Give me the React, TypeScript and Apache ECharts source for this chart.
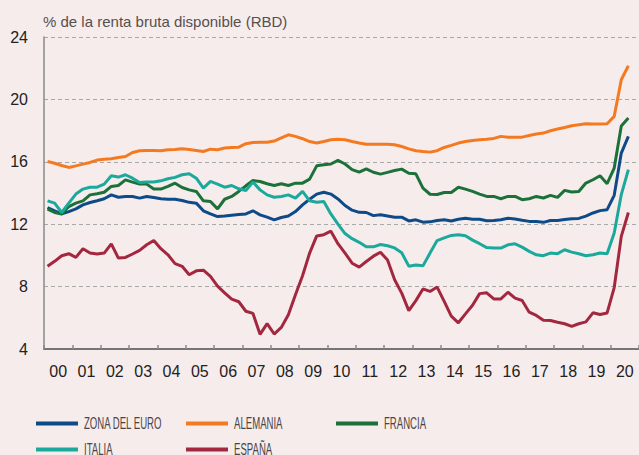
import React, { useEffect, useRef } from 'react';
import * as echarts from 'echarts';

// Year tick labels (2000–2020)
const yearLabels = ['00', '01', '02', '03', '04', '05', '06', '07', '08', '09', '10', '11', '12', '13', '14', '15', '16', '17', '18', '19', '20'];
const yTicks = [4, 8, 12, 16, 20, 24];

// Quarterly data 2000Q1 – 2020Q3 (% of gross disposable income)
const zonaEuro = [
  13.07, 12.86, 12.66, 12.81, 12.98, 13.24, 13.39, 13.5, 13.63, 13.88, 13.73, 13.78, 13.78, 13.67, 13.78, 13.71,
  13.63, 13.6, 13.6, 13.52, 13.4, 13.35, 12.86, 12.66, 12.49, 12.53, 12.58, 12.62, 12.66, 12.86, 12.6, 12.45,
  12.28, 12.43, 12.53, 12.81, 13.24, 13.6, 13.93, 14.05, 13.93, 13.62, 13.2, 12.9, 12.76, 12.75, 12.55, 12.6,
  12.53, 12.45, 12.45, 12.21, 12.28, 12.13, 12.15, 12.24, 12.28, 12.21, 12.32, 12.38, 12.32, 12.32, 12.22, 12.23,
  12.28, 12.38, 12.33, 12.25, 12.18, 12.18, 12.12, 12.24, 12.24, 12.3, 12.35, 12.37, 12.52, 12.72, 12.87, 12.93,
  13.85, 16.56, 17.63,
];
const alemania = [
  16.02, 15.91, 15.76, 15.64, 15.74, 15.85, 15.96, 16.11, 16.17, 16.19, 16.28, 16.34, 16.6, 16.71, 16.73, 16.73,
  16.71, 16.77, 16.79, 16.83, 16.79, 16.73, 16.66, 16.81, 16.77, 16.88, 16.92, 16.94, 17.16, 17.24, 17.26, 17.26,
  17.33, 17.54, 17.73, 17.63, 17.48, 17.3, 17.2, 17.3, 17.41, 17.45, 17.41, 17.3, 17.2, 17.13, 17.13, 17.13,
  17.13, 17.09, 16.98, 16.83, 16.71, 16.66, 16.62, 16.71, 16.92, 17.05, 17.2, 17.3, 17.37, 17.41, 17.45, 17.5,
  17.63, 17.58, 17.58, 17.58, 17.69, 17.78, 17.84, 17.99, 18.1, 18.2, 18.31, 18.37, 18.44, 18.42, 18.42, 18.44,
  18.91, 21.26, 22.16,
];
const francia = [
  12.96, 12.75, 12.66, 13.13, 13.35, 13.5, 13.88, 13.95, 14.05, 14.42, 14.48, 14.84, 14.7, 14.57, 14.57, 14.25,
  14.25, 14.42, 14.63, 14.35, 14.2, 14.1, 13.5, 13.45, 12.98, 13.6, 13.78, 14.1, 14.46, 14.8, 14.74, 14.59,
  14.48, 14.59, 14.48, 14.63, 14.63, 14.89, 15.74, 15.81, 15.86, 16.09, 15.86, 15.5, 15.34, 15.55, 15.33, 15.21,
  15.32, 15.44, 15.53, 15.27, 15.23, 14.31, 13.92, 13.9, 14.03, 14.03, 14.37, 14.25, 14.1, 13.93, 13.78, 13.78,
  13.63, 13.78, 13.78, 13.57, 13.63, 13.78, 13.68, 13.85, 13.72, 14.17, 14.06, 14.1, 14.64, 14.85, 15.11, 14.6,
  15.6, 18.29, 18.8,
];
const italia = [
  13.5, 13.35, 12.75, 13.35, 13.93, 14.25, 14.37, 14.37, 14.57, 15.1, 15.02, 15.17, 14.95, 14.67, 14.7, 14.7,
  14.78, 14.91, 15.0, 15.17, 15.24, 14.95, 14.31, 14.74, 14.57, 14.37, 14.48, 14.27, 14.16, 14.7, 14.2, 13.88,
  13.73, 13.78, 13.88, 13.67, 14.1, 13.5, 13.41, 13.45, 12.66, 12.0, 11.4, 11.07, 10.84, 10.55, 10.55, 10.7,
  10.62, 10.48, 10.17, 9.31, 9.38, 9.33, 10.15, 10.95, 11.12, 11.28, 11.33, 11.26, 10.98, 10.75, 10.5, 10.47,
  10.47, 10.68, 10.74, 10.53, 10.26, 10.04, 9.98, 10.15, 10.11, 10.36, 10.21, 10.11, 9.98, 10.04, 10.15, 10.11,
  11.43, 13.9, 15.5,
];
const espana = [
  9.3, 9.62, 9.98, 10.11, 9.87, 10.43, 10.15, 10.09, 10.15, 10.74, 9.83, 9.87, 10.09, 10.32, 10.68, 10.96,
  10.43, 10.04, 9.47, 9.3, 8.76, 9.01, 9.05, 8.65, 8.03, 7.6, 7.2, 7.03, 6.42, 6.28, 4.94, 5.63,
  4.96, 5.38, 6.2, 7.48, 8.7, 10.15, 11.25, 11.33, 11.55, 10.75, 10.15, 9.5, 9.25, 9.61, 9.95, 10.2,
  9.7, 8.44, 7.58, 6.46, 7.1, 7.85, 7.69, 7.97, 7.05, 6.11, 5.68, 6.25, 6.8, 7.55, 7.6, 7.21,
  7.21, 7.64, 7.26, 7.11, 6.36, 6.15, 5.85, 5.83, 5.72, 5.62, 5.45, 5.62, 5.74, 6.32, 6.21, 6.31,
  7.94, 11.22, 12.75,
];

const seriesNames = ['ZONA DEL EURO', 'ALEMANIA', 'FRANCIA', 'ITALIA', 'ESPAÑA'];
const seriesValues = [zonaEuro, alemania, francia, italia, espana];
const seriesColors = ['#0d4a88', '#f47a22', '#1b7139', '#1ba99c', '#a3283f'];

const BG = '#f7ecec';

// quarter index -> position in years since 2000 (mid-quarter)
const toPoints = (values: number[]) => values.map((v, i) => [(i + 0.5) / 4, v]);

export default function App() {
  const ref = useRef<HTMLDivElement>(null);

  useEffect(() => {
    if (!ref.current) return;
    const chart = echarts.init(ref.current, undefined, { renderer: 'svg' });

    // legend laid out as a 3-column grid (condensed labels)
    const legendPos = [
      { x: 36, y: 423.5 },
      { x: 186, y: 423.5 },
      { x: 336, y: 423.5 },
      { x: 36, y: 449.5 },
      { x: 186, y: 449.5 },
    ];
    const legendGraphics = seriesNames.map((name, i) => ({
      type: 'group',
      x: legendPos[i].x,
      y: legendPos[i].y,
      children: [
        { type: 'rect', shape: { x: 0, y: -2, width: 42, height: 4 }, style: { fill: seriesColors[i] } },
        {
          type: 'text',
          x: 48,
          y: 0,
          scaleX: 0.6,
          style: {
            text: name,
            fontSize: 16,
            fontFamily: "'Liberation Sans', Arial, sans-serif",
            fill: '#4a4444',
            verticalAlign: 'middle',
            align: 'left',
          },
        },
      ],
    }));

    chart.setOption({
      animation: false,
      backgroundColor: BG,
      textStyle: { fontFamily: "'Liberation Sans', Arial, sans-serif" },
      title: {
        text: '% de la renta bruta disponible (RBD)',
        left: 43,
        top: 14,
        padding: 0,
        textStyle: { fontSize: 15, fontWeight: 'normal', color: '#555050' },
      },
      graphic: legendGraphics,
      grid: { left: 44, right: 0, top: 37, bottom: 106, outerBoundsMode: 'none' },
      xAxis: [
        {
          type: 'value',
          min: 0,
          max: yearLabels.length,
          show: false,
        },
        {
          type: 'category',
          data: yearLabels,
          position: 'bottom',
          boundaryGap: true,
          axisLine: { show: true, lineStyle: { color: '#767676', width: 2 } },
          axisTick: { show: true, inside: true, length: 4, interval: 0, alignWithLabel: false, lineStyle: { color: '#8a8a8a', width: 1.5 } },
          axisLabel: { interval: 0, margin: 14, fontSize: 16, color: '#222' },
          splitLine: { show: false },
        },
      ],
      yAxis: {
        type: 'value',
        min: yTicks[0],
        max: yTicks[yTicks.length - 1],
        interval: 4,
        axisLine: { show: true, lineStyle: { color: '#8a8a8a', width: 1.5 } },
        axisTick: { show: false },
        axisLabel: { margin: 16, fontSize: 16, color: '#222' },
        splitLine: { show: true, lineStyle: { color: '#a8a8a8', type: [4, 3], width: 1 } },
      },
      series: seriesNames.map((name, i) => ({
        name,
        type: 'line',
        xAxisIndex: 0,
        data: toPoints(seriesValues[i]),
        showSymbol: false,
        symbol: 'none',
        color: seriesColors[i],
        lineStyle: { width: 3, color: seriesColors[i] },
      })),
    });
    return () => chart.dispose();
  }, []);

  return (
    <div
      ref={ref}
      style={{ position: 'fixed', left: 0, top: 0, width: 639, height: 455, background: BG }}
    />
  );
}
